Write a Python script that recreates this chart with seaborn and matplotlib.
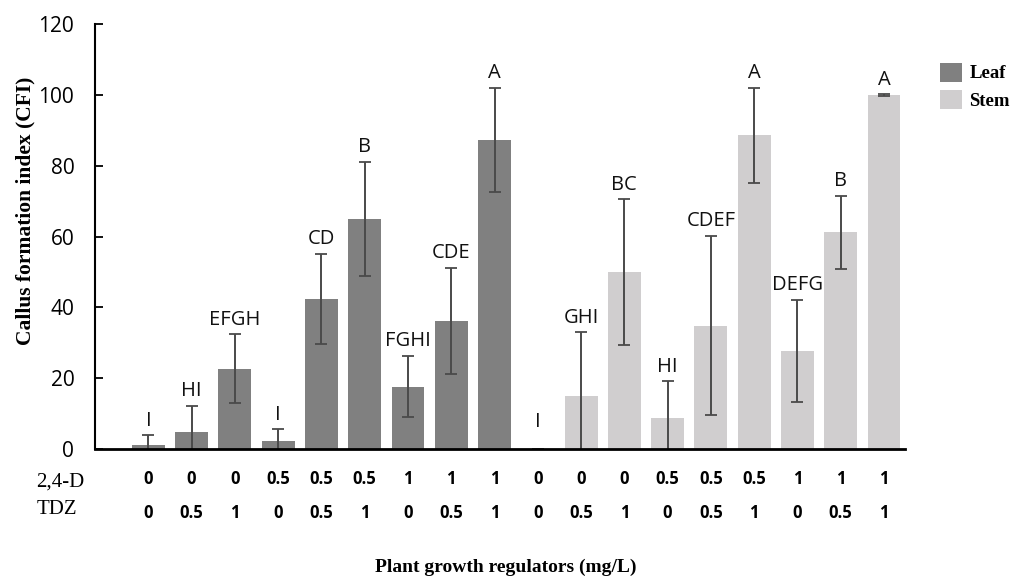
import numpy as np
import pandas as pd
import seaborn as sns
import matplotlib.pyplot as plt
from matplotlib.patches import Patch

# data
tissue = ['Leaf'] * 9 + ['Stem'] * 9
d24 = ['0', '0', '0', '0.5', '0.5', '0.5', '1', '1', '1'] * 2
tdz = ['0', '0.5', '1', '0', '0.5', '1', '0', '0.5', '1'] * 2
cfi_leaf = [1.1, 5.0, 22.7, 2.3, 42.5, 65.0, 17.7, 36.2, 87.3]
cfi_stem = [0.0, 15.0, 50.0, 8.7, 34.9, 88.5, 27.7, 61.2, 99.8]
err_leaf = [2.8, 7.2, 9.7, 3.3, 12.7, 16.0, 8.6, 15.0, 14.7]
err_stem = [0.0, 18.0, 20.5, 10.5, 25.3, 13.4, 14.4, 10.3, 0.3]
letters = ['I', 'HI', 'EFGH', 'I', 'CD', 'B', 'FGHI', 'CDE', 'A',
           'I', 'GHI', 'BC', 'HI', 'CDEF', 'A', 'DEFG', 'B', 'A']

df = pd.DataFrame({
    'treatment': [f'{i}' for i in range(18)],
    'tissue': tissue,
    'cfi': cfi_leaf + cfi_stem,
    'err': err_leaf + err_stem,
})

colors = {'Leaf': '#808080', 'Stem': '#d0cecf'}
serif = 'Liberation Serif'

fig = plt.figure(figsize=(10.12, 5.79), dpi=100)
ax = fig.add_axes([0.094, 0.224, 0.80, 0.735])

sns.barplot(data=df, x='treatment', y='cfi', hue='tissue', palette=colors,
            dodge=False, width=0.76, saturation=1, legend=False, ax=ax)

xs = np.arange(len(df))
ax.errorbar(xs, df['cfi'], yerr=df['err'], fmt='none', ecolor='#4a4a4a',
            elinewidth=1.4, capsize=4, capthick=1.3)

for x, v, e, lab in zip(xs, df['cfi'], df['err'], letters):
    top = v + e if v > 0 else 3.5
    ax.text(x, top + 1.3, lab, ha='center', va='bottom', fontsize=14.5,
            family='Open Sans', color='#111111')

ax.set_ylim(0, 120)
ax.set_xlim(-1.23, 17.48)
ax.set_yticks(range(0, 121, 20))
ax.tick_params(axis='y', direction='in', length=6, width=1.3, labelsize=15,
               pad=15)
for t in ax.get_yticklabels():
    t.set_family('Open Sans')
ax.set_xticks([])
ax.set_xlabel('')
ax.set_ylabel('Callus formation index (CFI)', family=serif, fontweight='bold',
              fontsize=15.5, va='center')
ax.yaxis.set_label_coords(-0.086, 0.56)
for s in ['top', 'right']:
    ax.spines[s].set_visible(False)
ax.spines['left'].set_linewidth(1.5)
ax.spines['bottom'].set_linewidth(2)

# treatment table under the axis
trans = ax.get_xaxis_transform()
for x, a, b in zip(xs, d24, tdz):
    ax.text(x, -0.07, a, transform=trans, ha='center', va='center',
            fontsize=12, fontweight='bold', family='Open Sans')
    ax.text(x, -0.15, b, transform=trans, ha='center', va='center',
            fontsize=12, fontweight='bold', family='Open Sans')
fig.text(0.036, 1 - 482 / 579, '2,4-D', family=serif, fontsize=15,
         ha='left', va='center')
fig.text(0.036, 1 - 510 / 579, 'TDZ', family=serif, fontsize=15,
         ha='left', va='center')
fig.text(0.50, 1 - 567 / 579, 'Plant growth regulators (mg/L)', family=serif,
         fontweight='bold', fontsize=14, ha='center', va='center')

handles = [Patch(facecolor=colors[k], label=k) for k in ['Leaf', 'Stem']]
fig.legend(handles=handles, loc='upper left', bbox_to_anchor=(0.921, 0.905),
           frameon=False, prop={'family': serif, 'weight': 'bold', 'size': 13.5},
           handlelength=1.2, handleheight=1.2, handletextpad=0.4,
           labelspacing=0.4, borderaxespad=0)

fig.savefig('out.png', dpi=100)
